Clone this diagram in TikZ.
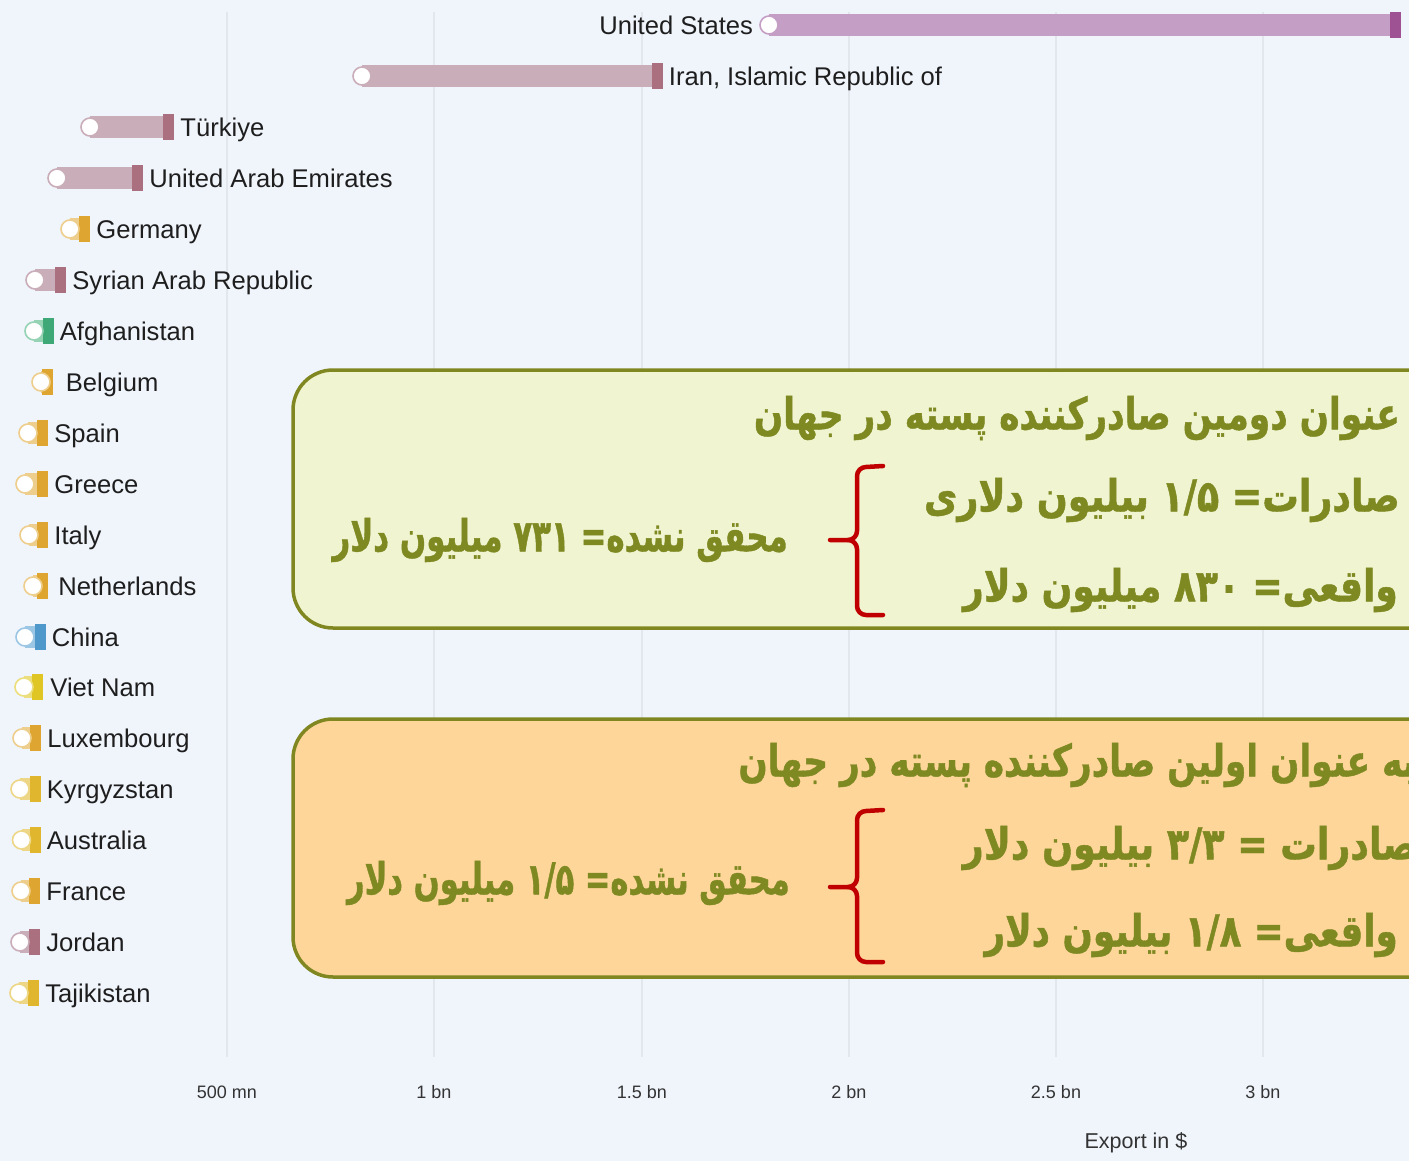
\documentclass[tikz,border=0pt]{standalone}
\usepackage{fontspec}
\usepackage{graphicx}
\setmainfont{Liberation Sans}
\newfontfamily\fafont[Script=Arabic, FakeStretch=0.78, BoldFeatures={FakeBold=1}]{DejaVu Sans}
\TeXXeTstate=1
\usetikzlibrary{positioning}
\definecolor{bgc}{RGB}{240,245,252}
\definecolor{gridc}{RGB}{226,231,237}
\definecolor{txtc}{RGB}{30,30,30}
\definecolor{axisc}{RGB}{51,51,51}
\definecolor{usbar}{RGB}{196,158,196}
\definecolor{usend}{RGB}{158,82,148}
\definecolor{rosebar}{RGB}{201,173,185}
\definecolor{roseend}{RGB}{171,112,128}
\definecolor{orgbar}{RGB}{238,206,140}
\definecolor{orgend}{RGB}{222,166,48}
\definecolor{grnbar}{RGB}{150,210,180}
\definecolor{grnend}{RGB}{62,168,118}
\definecolor{blubar}{RGB}{155,198,228}
\definecolor{bluend}{RGB}{78,152,204}
\definecolor{ylwbar}{RGB}{236,222,125}
\definecolor{ylwend}{RGB}{224,198,36}
\definecolor{gldbar}{RGB}{238,214,135}
\definecolor{gldend}{RGB}{223,182,45}
\definecolor{boxline}{RGB}{128,135,32}
\definecolor{fatxt}{RGB}{126,137,34}
\definecolor{greenfill}{RGB}{240,244,208}
\definecolor{orangefill}{RGB}{254,214,154}
\definecolor{bracered}{RGB}{192,0,0}
\tikzset{
  cbar/.style={draw=#1, line width=22pt},
  startdot/.style={circle, draw=#1, line width=1.6pt, fill=white, minimum size=18pt, inner sep=0pt},
  endbox/.style={rectangle, fill=#1, minimum width=11pt, minimum height=26pt, inner sep=0pt},
  cname/.style={font=\fontsize{25.6}{30}\selectfont, text=txtc, inner sep=0pt, text height=18.3pt, text depth=0pt},
  gridline/.style={draw=gridc, line width=1.2pt},
  ticklab/.style={font=\fontsize{18}{21}\selectfont, text=axisc, inner sep=0pt},
  notebox/.style={draw=boxline, line width=3.5pt, rounded corners=40pt},
  fatext/.style={font=\fafont\bfseries\fontsize{44}{50}\selectfont, text=fatxt, inner sep=0pt, anchor=east},
  redbrace/.style={draw=bracered, line width=4.5pt, line cap=round, line join=round},
}

\begin{document}
\begin{tikzpicture}[x=1pt,y=-1pt]
\useasboundingbox (0,0) rectangle (1409,1161);
\fill[bgc] (0,0) rectangle (1409,1161);
\clip (0,0) rectangle (1409,1161);

% grid
\draw[gridline] (227,12) -- (227,1057);
\draw[gridline] (434,12) -- (434,1057);
\draw[gridline] (642,12) -- (642,1057);
\draw[gridline] (849,12) -- (849,1057);
\draw[gridline] (1056,12) -- (1056,1057);
\draw[gridline] (1263,12) -- (1263,1057);
\node[ticklab] (t500) at (227,1092) {500 mn};
\node[ticklab] (t1000) at (434,1092) {1 bn};
\node[ticklab] (t1500) at (642,1092) {1.5 bn};
\node[ticklab] (t2000) at (849,1092) {2 bn};
\node[ticklab] (t2500) at (1056,1092) {2.5 bn};
\node[ticklab] (t3000) at (1263,1092) {3 bn};
\node[ticklab, font=\fontsize{21.5}{25}\selectfont] (xtitle) at (1136,1143) {Export in \$};

% United States
\coordinate (usa0) at (769,25);
\coordinate (usa1) at (1395.5,25);
\draw[cbar=usbar] (usa0) -- (usa1);
\node[endbox=usend] (usaE) at (usa1) {};
\node[startdot=usbar] (usaS) at (usa0) {};
\node[cname, left=6pt of usaS] (usaL) {United States};

% Iran
\coordinate (irn0) at (362,76);
\coordinate (irn1) at (657,76);
\draw[cbar=rosebar] (irn0) -- (irn1);
\node[endbox=roseend] (irnE) at (irn1) {};
\node[startdot=rosebar] (irnS) at (irn0) {};
\node[cname, right=6pt of irnE] (irnL) {Iran, Islamic Republic of};

% Turkiye
\coordinate (tur0) at (90,127);
\coordinate (tur1) at (168.5,127);
\draw[cbar=rosebar] (tur0) -- (tur1);
\node[endbox=roseend] (turE) at (tur1) {};
\node[startdot=rosebar] (turS) at (tur0) {};
\node[cname, right=6pt of turE] (turL) {Türkiye};

% UAE
\coordinate (are0) at (57,178);
\coordinate (are1) at (137.5,178);
\draw[cbar=rosebar] (are0) -- (are1);
\node[endbox=roseend] (areE) at (are1) {};
\node[startdot=rosebar] (areS) at (are0) {};
\node[cname, right=6pt of areE] (areL) {United Arab Emirates};

% Germany
\coordinate (deu0) at (70,229);
\coordinate (deu1) at (84.5,229);
\draw[cbar=orgbar] (deu0) -- (deu1);
\node[endbox=orgend] (deuE) at (deu1) {};
\node[startdot=orgbar] (deuS) at (deu0) {};
\node[cname, right=6pt of deuE] (deuL) {Germany};

% Syria
\coordinate (syr0) at (35,280);
\coordinate (syr1) at (60.5,280);
\draw[cbar=rosebar] (syr0) -- (syr1);
\node[endbox=roseend] (syrE) at (syr1) {};
\node[startdot=rosebar] (syrS) at (syr0) {};
\node[cname, right=6pt of syrE] (syrL) {Syrian Arab Republic};

% Afghanistan
\coordinate (afg0) at (34,331);
\coordinate (afg1) at (48,331);
\draw[cbar=grnbar] (afg0) -- (afg1);
\node[endbox=grnend] (afgE) at (afg1) {};
\node[startdot=grnbar] (afgS) at (afg0) {};
\node[cname, right=6pt of afgE] (afgL) {Afghanistan};

% Belgium
\coordinate (bel0) at (41,382);
\coordinate (bel1) at (47,382);
\draw[cbar=orgbar] (bel0) -- (bel1);
\node[endbox=orgend] (belE) at (bel1) {};
\node[startdot=orgbar] (belS) at (bel0) {};
\node[cname, right=13pt of belE] (belL) {Belgium};

% Spain
\coordinate (esp0) at (28,433);
\coordinate (esp1) at (42.5,433);
\draw[cbar=orgbar] (esp0) -- (esp1);
\node[endbox=orgend] (espE) at (esp1) {};
\node[startdot=orgbar] (espS) at (esp0) {};
\node[cname, right=6pt of espE] (espL) {Spain};

% Greece
\coordinate (grc0) at (25,484);
\coordinate (grc1) at (42.5,484);
\draw[cbar=orgbar] (grc0) -- (grc1);
\node[endbox=orgend] (grcE) at (grc1) {};
\node[startdot=orgbar] (grcS) at (grc0) {};
\node[cname, right=6pt of grcE] (grcL) {Greece};

% Italy
\coordinate (ita0) at (29,535);
\coordinate (ita1) at (42.5,535);
\draw[cbar=orgbar] (ita0) -- (ita1);
\node[endbox=orgend] (itaE) at (ita1) {};
\node[startdot=orgbar] (itaS) at (ita0) {};
\node[cname, right=6pt of itaE] (itaL) {Italy};

% Netherlands
\coordinate (nld0) at (33,586);
\coordinate (nld1) at (42.5,586);
\draw[cbar=orgbar] (nld0) -- (nld1);
\node[endbox=orgend] (nldE) at (nld1) {};
\node[startdot=orgbar] (nldS) at (nld0) {};
\node[cname, right=10pt of nldE] (nldL) {Netherlands};

% China
\coordinate (chn0) at (25,637);
\coordinate (chn1) at (40,637);
\draw[cbar=blubar] (chn0) -- (chn1);
\node[endbox=bluend] (chnE) at (chn1) {};
\node[startdot=blubar] (chnS) at (chn0) {};
\node[cname, right=6pt of chnE] (chnL) {China};

% Viet Nam
\coordinate (vnm0) at (24,687);
\coordinate (vnm1) at (37.5,687);
\draw[cbar=ylwbar] (vnm0) -- (vnm1);
\node[endbox=ylwend] (vnmE) at (vnm1) {};
\node[startdot=ylwbar] (vnmS) at (vnm0) {};
\node[cname, right=7pt of vnmE] (vnmL) {Viet Nam};

% Luxembourg
\coordinate (lux0) at (22,738);
\coordinate (lux1) at (35.5,738);
\draw[cbar=orgbar] (lux0) -- (lux1);
\node[endbox=orgend] (luxE) at (lux1) {};
\node[startdot=orgbar] (luxS) at (lux0) {};
\node[cname, right=6pt of luxE] (luxL) {Luxembourg};

% Kyrgyzstan
\coordinate (kgz0) at (20,789);
\coordinate (kgz1) at (35,789);
\draw[cbar=gldbar] (kgz0) -- (kgz1);
\node[endbox=gldend] (kgzE) at (kgz1) {};
\node[startdot=gldbar] (kgzS) at (kgz0) {};
\node[cname, right=6pt of kgzE] (kgzL) {Kyrgyzstan};

% Australia
\coordinate (aus0) at (21.5,840);
\coordinate (aus1) at (35,840);
\draw[cbar=gldbar] (aus0) -- (aus1);
\node[endbox=gldend] (ausE) at (aus1) {};
\node[startdot=gldbar] (ausS) at (aus0) {};
\node[cname, right=6pt of ausE] (ausL) {Australia};

% France
\coordinate (fra0) at (21,891);
\coordinate (fra1) at (34.5,891);
\draw[cbar=orgbar] (fra0) -- (fra1);
\node[endbox=orgend] (fraE) at (fra1) {};
\node[startdot=orgbar] (fraS) at (fra0) {};
\node[cname, right=6pt of fraE] (fraL) {France};

% Jordan
\coordinate (jor0) at (20,942);
\coordinate (jor1) at (34.5,942);
\draw[cbar=rosebar] (jor0) -- (jor1);
\node[endbox=roseend] (jorE) at (jor1) {};
\node[startdot=rosebar] (jorS) at (jor0) {};
\node[cname, right=6pt of jorE] (jorL) {Jordan};

% Tajikistan
\coordinate (tjk0) at (19,993);
\coordinate (tjk1) at (33.5,993);
\draw[cbar=gldbar] (tjk0) -- (tjk1);
\node[endbox=gldend] (tjkE) at (tjk1) {};
\node[startdot=gldbar] (tjkS) at (tjk0) {};
\node[cname, right=6pt of tjkE] (tjkL) {Tajikistan};

% second exporter box
\draw[notebox, fill=greenfill] (293,370) rectangle (1480,628);
\node[fatext] (g1) at (1400,418) {\beginR عنوان دومین صادرکننده پسته در جهان\endR};
\node[fatext] (g2) at (1400,500) {\scalebox{1.06}[1]{\beginR صادرات= ۱/۵ بیلیون دلاری\endR}};
\node[fatext] (g3) at (1398,590) {\scalebox{1.05}[1]{\beginR واقعی=  ۸۳۰ میلیون دلار\endR}};
\node[fatext] (gl) at (788,540) {\scalebox{0.9}[1]{\beginR محقق نشده= ۷۳۱ میلیون دلار\endR}};
\draw[redbrace] (883,466) -- (866,467) to[out=180,in=90] (857,476) -- (857,531)
  to[out=-90,in=0] (848,540) -- (830,540);
\draw[redbrace] (848,540) to[out=0,in=90] (857,549) -- (857,606)
  to[out=-90,in=180] (866,615) -- (883,615);

% first exporter box
\draw[notebox, fill=orangefill] (293,719) rectangle (1480,977);
\node[fatext] (o1) at (1416,765) {\beginR به عنوان اولین صادرکننده پسته در جهان\endR};
\node[fatext] (o2) at (1418,848) {\scalebox{1.06}[1]{\beginR صادرات = ۳/۳ بیلیون دلار\endR}};
\node[fatext] (o3) at (1398,935) {\scalebox{1.04}[1]{\beginR واقعی= ۱/۸ بیلیون دلار\endR}};
\node[fatext] (ol) at (790,883) {\scalebox{0.89}[1]{\beginR محقق نشده= ۱/۵ میلیون دلار\endR}};
\draw[redbrace] (883,810) -- (866,811) to[out=180,in=90] (857,820) -- (857,878)
  to[out=-90,in=0] (848,887) -- (830,887);
\draw[redbrace] (848,887) to[out=0,in=90] (857,896) -- (857,953)
  to[out=-90,in=180] (866,962) -- (883,962);
\end{tikzpicture}
\end{document}
